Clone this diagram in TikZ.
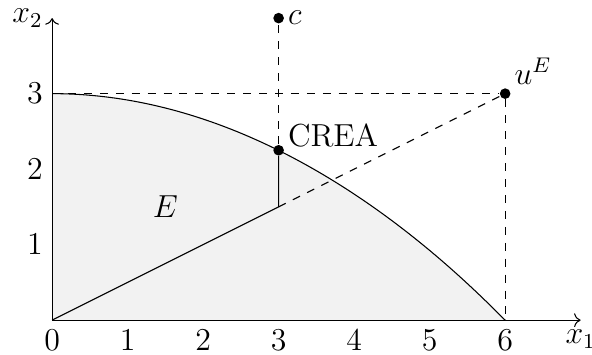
\documentclass[tikz,border=0pt]{standalone}
\usepackage{amsmath}
\usepackage{tikz}
\usetikzlibrary{arrows.meta}

\begin{document}
\begin{tikzpicture}[font=\large, dot/.style={circle, fill=black, inner sep=0pt, minimum size=4pt}]
                \useasboundingbox (-0.69,-0.46) rectangle (7.15,4.24);
                \coordinate (O) at (0,0);
                \coordinate (xend) at (7,0);
                \coordinate (yend) at (0,4);
                \coordinate (ythree) at (0,3);
                \coordinate (xsix) at (6,0);
                \coordinate (mid) at (3,1.5);
                
                \fill[gray!10] (O) -- (ythree) parabola (xsix) -- cycle;
                \draw (ythree) parabola (xsix);
                
                \draw[->] (O) -- (xend) node[below] {$x_1$};
                \draw[->] (O) -- (yend) node[left] {$x_2$};
                \foreach \x in {0,...,6} \node[below] (tx\x) at (\x,0) {$\x$};
                \foreach \y in {1,2,3} \node[left] (ty\y) at (0,\y) {$\y$};
                
                \node[dot] (crea) at (3,2.25) {};
                \node[dot] (c) at (3,4) {};
                \node[dot] (uE) at (6,3) {};
                \node[right, yshift=5.5pt] (crealabel) at (crea) {CREA};
                \node[right] (clabel) at (c) {$c$};
                \node[above right] (uElabel) at (uE) {$u^E$};
                \node (E) at (1.5,1.5) {$E$};
                
                \draw (O) -- (mid) -- (crea);
                \draw[dashed] (mid) -- (uE);
                \draw[dashed] (crea) -- (c);
                \draw[dashed] (ythree) -- (uE) -- (xsix);
            \end{tikzpicture}
\end{document}
